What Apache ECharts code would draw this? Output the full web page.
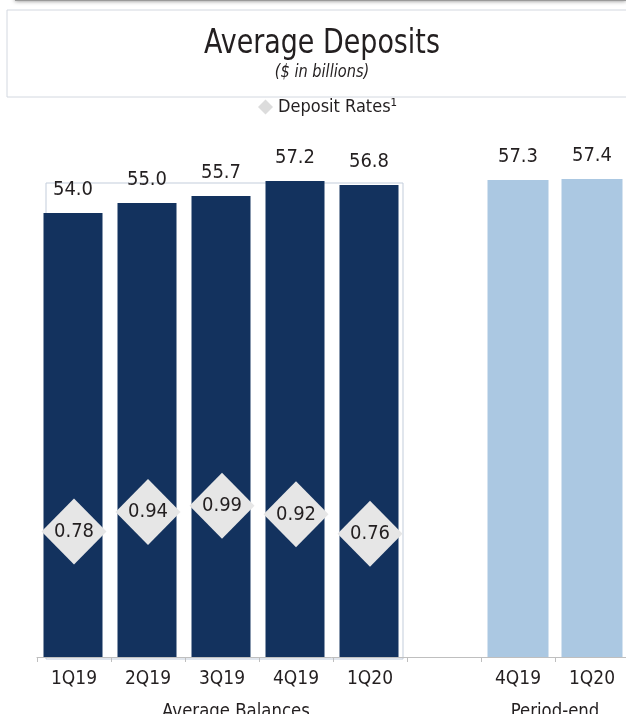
<!DOCTYPE html>
<html>
<head>
<meta charset="utf-8">
<script src="https://cdn.jsdelivr.net/npm/echarts@6/dist/echarts.min.js"></script>
<style>
  html, body { margin: 0; padding: 0; background: #fff; }
  #chart { width: 626px; height: 714px; }
</style>
</head>
<body>
<div id="chart"></div>
<script>
// Quarter labels on the x axis (an empty slot separates the two groups)
const categories = ['1Q19', '2Q19', '3Q19', '4Q19', '1Q20', '', '4Q19', '1Q20'];
// Average balances, $ in billions
const averageBalances = [54.0, 55.0, 55.7, 57.2, 56.8];
// Period-end balances, $ in billions
const periodEndBalances = [57.3, 57.4];
// Deposit rates (%), one per average-balance quarter
const depositRates = [0.78, 0.94, 0.99, 0.92, 0.76];
// Group captions under the axis
const groupLabels = ['Average Balances', 'Period-end'];

const FONT = "'Liberation Sans Narrow', 'DejaVu Sans Condensed', sans-serif";
const INK = '#231F20';
const NAVY = '#13325E';
const LIGHT = '#ABC8E2';

const nAll = categories.length;
const pad = (arr, before, total) => {
  const out = new Array(total).fill(null);
  arr.forEach((v, i) => { out[before + i] = v; });
  return out;
};

const chart = echarts.init(document.getElementById('chart'), null, { renderer: 'canvas' });

const valueLabel = digits => ({
  show: true,
  fontFamily: FONT, fontSize: 20, color: INK,
  formatter: p => p.value == null ? '' : Number(p.value).toFixed(digits)
});

const option = {
  animation: false,
  backgroundColor: '#fff',
  textStyle: { fontFamily: FONT, color: INK },
  legend: {
    top: 93,
    left: 253,
    itemWidth: 15,
    itemHeight: 15,
    itemGap: 2,
    icon: 'diamond',
    data: [{ name: 'Deposit Rates¹', itemStyle: { color: '#DCDCDC', opacity: 1 } }],
    textStyle: { fontFamily: FONT, fontSize: 18, color: INK }
  },
  // the plot runs a few pixels past the right edge of the canvas
  grid: { left: 37, width: 592, top: 157, bottom: 57, containLabel: false, outerBoundsMode: 'none' },
  xAxis: {
    type: 'category',
    data: categories,
    axisLine: { onZero: false, lineStyle: { color: '#BFBFBF', width: 1 } },
    axisTick: { show: true, length: 5, lineStyle: { color: '#BFBFBF' } },
    axisLabel: { fontFamily: FONT, fontSize: 19, color: INK, margin: 13 }
  },
  yAxis: [
    { type: 'value', min: 9.6, max: 59.6, show: false, splitLine: { show: false } },
    { type: 'value', min: -0.25, max: 3.85, show: false, splitLine: { show: false } }
  ],
  series: [
    {
      name: 'Average Balances',
      type: 'bar',
      barWidth: 59,
      barGap: '-100%',
      data: pad(averageBalances, 0, nAll),
      itemStyle: { color: NAVY },
      label: Object.assign(valueLabel(1), { position: 'top', distance: 13 }),
      z: 2
    },
    {
      name: 'Period-end',
      type: 'bar',
      barWidth: 61,
      barGap: '-100%',
      data: pad(periodEndBalances, nAll - periodEndBalances.length, nAll),
      itemStyle: { color: LIGHT },
      label: Object.assign(valueLabel(1), { position: 'top', distance: 13 }),
      z: 2
    },
    {
      name: 'Deposit Rates¹',
      type: 'scatter',
      yAxisIndex: 1,
      symbol: 'diamond',
      symbolSize: [65, 66],
      data: pad(depositRates, 0, nAll),
      itemStyle: { color: '#E6E6E6', opacity: 1 },
      emphasis: { disabled: true },
      label: Object.assign(valueLabel(2), { position: 'inside' }),
      z: 5
    }
  ],
  graphic: [
    // faint shadow strip along the top edge
    { type: 'rect', left: 15, top: -3, shape: { width: 611, height: 4 },
      style: { fill: '#9a9a9a', shadowBlur: 4, shadowColor: 'rgba(0,0,0,0.5)' }, z: 1 },
    // title panel
    { type: 'rect', left: 6.5, top: 9.5, shape: { width: 640, height: 87 },
      style: { fill: '#fff', stroke: '#D3D8E0', lineWidth: 1 }, z: 0 },
    { type: 'text', x: 322, y: 44, scaleX: 0.88,
      style: { text: 'Average Deposits', font: `34px ${FONT}`, fill: INK, align: 'center', verticalAlign: 'middle' }, z: 3 },
    { type: 'text', x: 322, y: 72, scaleX: 0.9,
      style: { text: '($ in billions)', font: `italic 18px ${FONT}`, fill: INK, align: 'center', verticalAlign: 'middle' }, z: 3 },
    // outline around the average-balance plot area
    { type: 'rect', left: 43.5, top: 180.5, shape: { width: 357, height: 476 },
      style: { fill: 'none', stroke: '#C3CDDB', lineWidth: 1 }, z: 0 },
    // group captions
    { type: 'text', x: 236, y: 712, scaleX: 0.92,
      style: { text: groupLabels[0], font: `20px ${FONT}`, fill: INK, align: 'center', verticalAlign: 'middle' }, z: 3 },
    { type: 'text', x: 555, y: 712, scaleX: 0.92,
      style: { text: groupLabels[1], font: `20px ${FONT}`, fill: INK, align: 'center', verticalAlign: 'middle' }, z: 3 }
  ]
};

chart.setOption(option);
</script>
</body>
</html>
